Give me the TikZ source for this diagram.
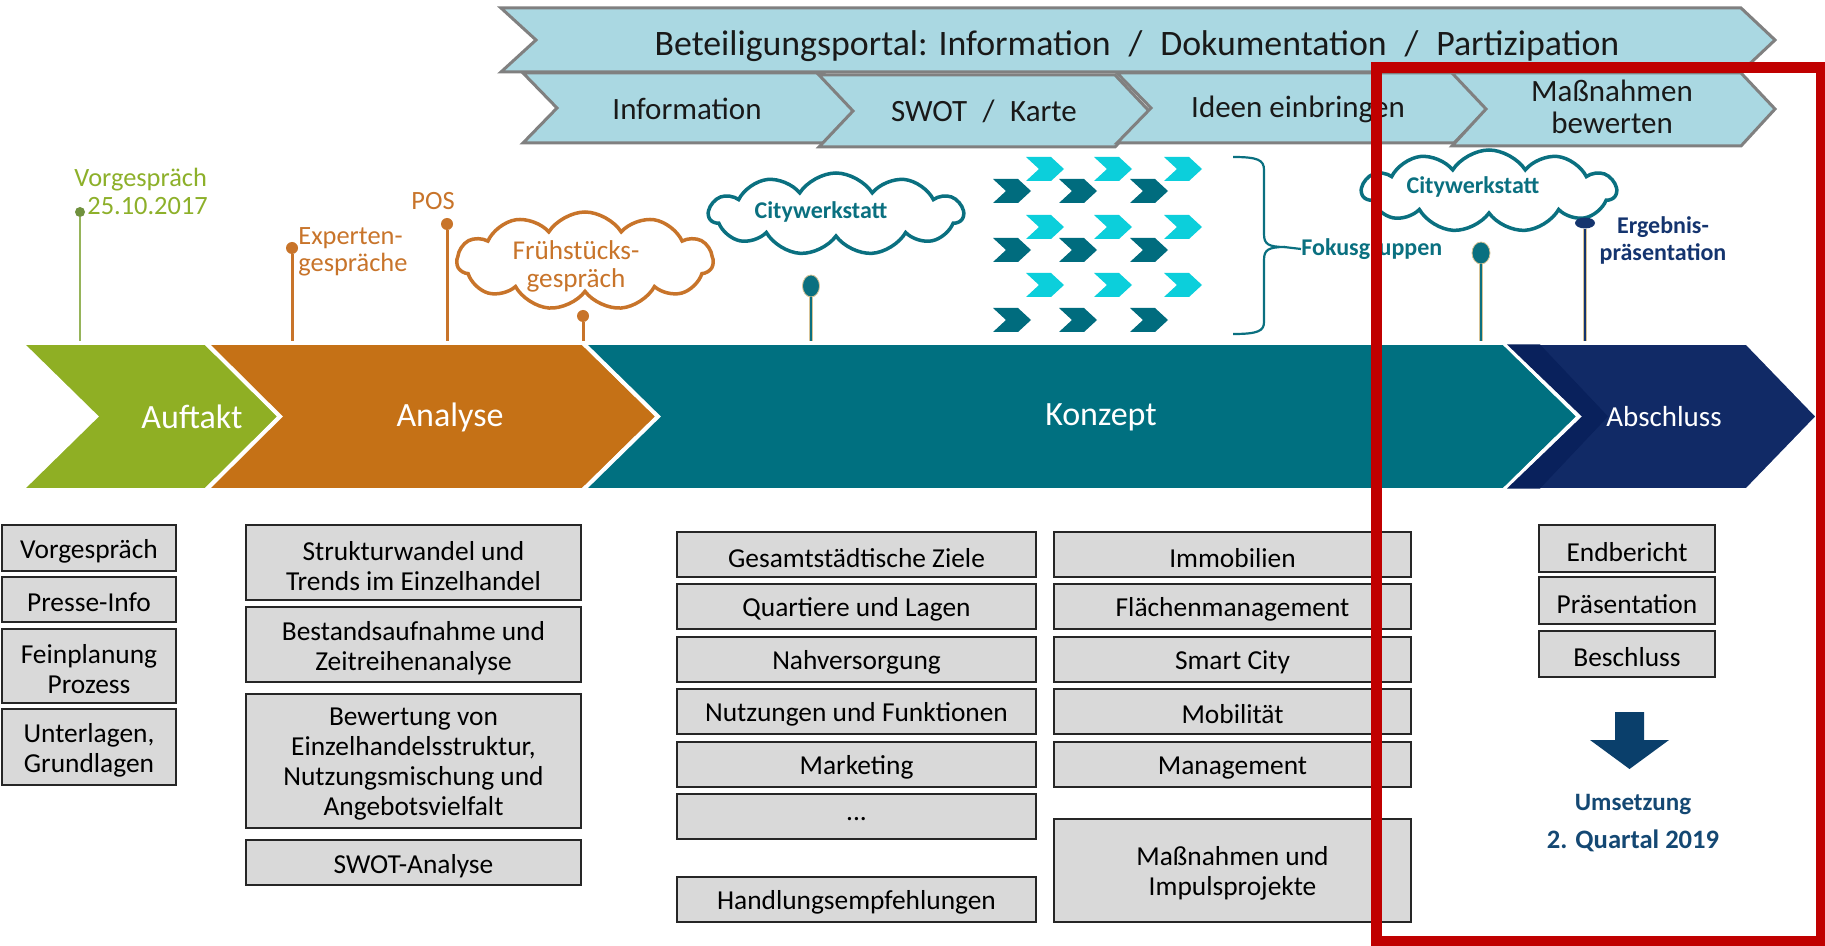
\documentclass[tikz,border=0pt]{standalone}
\usepackage{fontspec}
\setmainfont{Carlito}
\usetikzlibrary{shapes.symbols,shapes.geometric}
\definecolor{cGreen}{RGB}{143,175,36}
\definecolor{cOrange}{RGB}{197,113,22}
\definecolor{cTeal}{RGB}{0,112,128}
\definecolor{cNavy}{RGB}{17,42,102}
\definecolor{cNavyD}{RGB}{9,33,92}
\definecolor{cLight}{RGB}{170,216,226}
\definecolor{cCyan}{RGB}{12,207,219}
\definecolor{cDark}{RGB}{0,108,126}
\definecolor{cBox}{RGB}{217,217,217}
\definecolor{cRed}{RGB}{192,0,0}
\definecolor{tGreen}{RGB}{141,176,42}
\definecolor{pGreen}{RGB}{112,145,62}
\definecolor{lGreen}{RGB}{150,180,90}
\definecolor{tOrange}{RGB}{200,116,42}
\definecolor{tTeal}{RGB}{10,112,128}
\definecolor{tNavy}{RGB}{20,52,110}
\definecolor{tBlue}{RGB}{20,72,115}
\definecolor{cArrow}{RGB}{10,63,107}
\definecolor{cBeige}{RGB}{215,195,150}
\newcommand\smallchev[3]{\fill[#3] (#1,#2) -- ++(25,0) -- ++(13,12) -- ++(-13,12) -- ++(-25,0) -- ++(13,-12) -- cycle;}
% box: name, x, y, width, height, text
\newcommand\bx[6]{\node[box, minimum width=#4, minimum height=#5] (#1) at (#2,#3) {};
  \node[boxtext] (#1t) at ([yshift=-1.6pt]#1.center) {#6};}
\begin{document}
\begin{tikzpicture}[x=0.5pt,y=-0.5pt,
  box/.style={draw=black!85, fill=cBox, line width=1pt, inner sep=0pt},
  boxtext/.style={align=center, font=\fontsize{13.7}{15}\selectfont, text=black, inner sep=0pt},
  chevtop/.style={draw=gray, line width=1.5pt, fill=cLight, line join=miter},
  phase/.style={draw=white, line width=2pt, line join=miter},
  phaselabel/.style={text=white, font=\fontsize{17}{20}\selectfont},
  toplabel/.style={text=black!90, align=center, font=\fontsize{15.5}{16}\selectfont},
  cloudshape/.style={cloud, cloud puffs=11, cloud puff arc=115, cloud ignores aspect,
    line width=1.75pt, fill=white, inner sep=0pt},
  pinhead/.style={circle, inner sep=0pt, minimum size=#1},
  pinhead/.default=6pt,
  pinell/.style={ellipse, inner sep=0pt},
  mlabel/.style={font=\fontsize{13.2}{13.5}\selectfont, align=left, inner sep=0pt},
  blabel/.style={font=\bfseries\fontsize{12}{13.5}\selectfont, align=center, inner sep=0pt},
  pinline/.style={line width=1.5pt},
  pinline2/.style={draw=cBeige, line width=0.4pt, double distance=1.2pt},
]
\useasboundingbox (0,0) rectangle (1825,946);
\fill[white] (0,0) rectangle (1825,946);
\coordinate (bartop) at (0,341);

% ---------- top chevrons ----------
\draw[chevtop] (501,8) -- (1741,8) -- (1775,40) -- (1741,72) -- (501,72) -- (536,40) -- cycle;
\node[toplabel, font=\fontsize{17.9}{20}\selectfont] (portal) at (1137,46)
  {Beteiligungsportal: Information\enspace/\enspace Dokumentation\enspace/\enspace Partizipation};
\draw[chevtop] (523,73) -- (823,73) -- (857,108) -- (823,143) -- (523,143) -- (557,108) -- cycle;
\draw[chevtop] (819,75) -- (1115,75) -- (1149,111) -- (1115,147) -- (819,147) -- (853,111) -- cycle;
\draw[chevtop] (1117,73) -- (1454,73) -- (1488,108) -- (1454,143) -- (1117,143) -- (1151,108) -- cycle;
\draw[chevtop] (1452,73) -- (1741,73) -- (1775,109) -- (1741,146) -- (1452,146) -- (1486,109) -- cycle;
\node[toplabel] (info) at (687,109) {Information};
\node[toplabel] (swot) at (984,111) {SWOT\enspace/\enspace Karte};
\node[toplabel] (ideen) at (1298,109) {Ideen einbringen};
\node[toplabel] (massn) at (1612,107) {Maßnahmen\\bewerten};

% ---------- phase band ----------
\path[phase, fill=cGreen] (21,343) -- (206,343) -- (280,416.5) -- (206,490) -- (21,490) -- (96,416.5) -- cycle;
\path[phase, fill=cOrange] (206,343) -- (583,343) -- (658,416.5) -- (583,490) -- (206,490) -- (280,416.5) -- cycle;
\path[phase, fill=cTeal] (583,343) -- (1504,343) -- (1579,416.5) -- (1504,490) -- (583,490) -- (658,416.5) -- cycle;
\path[phase, fill=cNavy] (1504,343) -- (1747,343) -- (1818,416.5) -- (1747,490) -- (1504,490) -- (1579,416.5) -- cycle;
\fill[cNavyD] (1507,344.5) -- (1540,344.5) -- (1608,416.5) -- (1540,488.5) -- (1507,488.5) -- (1582,416.5) -- cycle;
\node[phaselabel] (auftakt) at (192,417) {Auftakt};
\node[phaselabel] (analyse) at (450,417) {Analyse};
\node[phaselabel] (konzept) at (1101,417) {Konzept};
\node[phaselabel, font=\fontsize{14.5}{17}\selectfont] (abschluss) at (1664,417) {Abschluss};

% ---------- milestones ----------
\node[mlabel, text=tGreen, anchor=west] (vgl1) at (74,180) {Vorgespräch};
\node[mlabel, text=tGreen, anchor=west] (vgl2) at (87,206) {25.10.2017};
\node[pinhead=5pt, fill=pGreen] (vgpin) at (80,212) {};
\draw[lGreen, line width=1pt] (vgpin) -- (vgpin |- bartop);

\node[mlabel, text=tOrange, anchor=west] (expl) at (298,252) {Experten-\\gespräche};
\node[pinhead=6pt, fill=tOrange] (exppin) at (292,248) {};
\draw[pinline, tOrange] (exppin) -- (exppin |- bartop);

\node[mlabel, text=tOrange] (posl) at (433,201) {POS};
\node[pinhead=6pt, fill=tOrange] (pospin) at (447,224) {};
\draw[pinline, tOrange] (pospin) -- (pospin |- bartop);

\node[cloudshape, draw=tOrange, minimum width=128pt, minimum height=49pt] (cloudF) at (585,261) {};
\node[mlabel, text=tOrange, align=center, font=\fontsize{13.6}{14}\selectfont] (fruehl) at (576,266) {Frühstücks-\\gespräch};
\node[pinhead=6pt, fill=tOrange] (fpin) at (583,316) {};
\draw[pinline, tOrange] (fpin) -- (fpin |- bartop);

\node[cloudshape, draw=tTeal, minimum width=127pt, minimum height=41pt] (cloudC1) at (836,214) {};
\node[blabel, text=tTeal] (cw1l) at (821,212) {Citywerkstatt};
\node[pinell, fill=tTeal, draw=cBeige, line width=0.4pt, minimum width=8.5pt, minimum height=11pt] (cw1pin) at (811,286) {};
\draw[pinline2, double=tTeal] (cw1pin) -- (cw1pin |- bartop);

% small chevrons
\smallchev{1026}{157}{cCyan}\smallchev{1094}{157}{cCyan}\smallchev{1164}{157}{cCyan}
\smallchev{993}{179}{cDark}\smallchev{1059}{179}{cDark}\smallchev{1130}{179}{cDark}
\smallchev{1026}{215}{cCyan}\smallchev{1094}{215}{cCyan}\smallchev{1164}{215}{cCyan}
\smallchev{993}{238}{cDark}\smallchev{1059}{238}{cDark}\smallchev{1130}{238}{cDark}
\smallchev{1026}{273}{cCyan}\smallchev{1094}{273}{cCyan}\smallchev{1164}{273}{cCyan}
\smallchev{993}{308}{cDark}\smallchev{1059}{308}{cDark}\smallchev{1130}{308}{cDark}

% brace
\node[blabel, text=tTeal, anchor=west] (fokus) at (1301,249) {Fokusgruppen};
\draw[tTeal, line width=1.1pt] (1233,157) .. controls (1258,157) and (1264,160) .. (1264,170) -- (1264,234)
  .. controls (1264,244) and (1268,247) .. (1285,247)
  .. controls (1268,247) and (1264,250) .. (1264,260) -- (1264,322)
  .. controls (1264,331) and (1258,334) .. (1233,334);
\draw[tTeal, line width=1.1pt] (1284,247) -- (fokus.west);

\node[cloudshape, draw=tTeal, minimum width=127pt, minimum height=41pt] (cloudC2) at (1489,191) {};
\node[blabel, text=tTeal] (cw2l) at (1473,187) {Citywerkstatt};
\node[pinell, fill=tTeal, draw=cBeige, line width=0.4pt, minimum width=9pt, minimum height=11pt] (cw2pin) at (1481,253) {};
\draw[pinline2, double=tTeal] (cw2pin) -- (cw2pin |- bartop);

\node[pinell, fill=tNavy, minimum width=10pt, minimum height=5.5pt] (erpin) at (1585,223) {};
\draw[pinline2, double=tNavy] (erpin) -- (erpin |- bartop);
\node[blabel, text=tNavy] (erl) at (1663,240) {Ergebnis-\\präsentation};

% ---------- boxes ----------
\bx{b1}{89}{548}{87pt}{23pt}{Vorgespräch}
\bx{b2}{89}{599.5}{87pt}{22.5pt}{Presse-Info}
\bx{b3}{89}{666}{87pt}{37pt}{Feinplanung\\Prozess}
\bx{b4}{89}{747}{87pt}{38pt}{Unterlagen,\\Grundlagen}

\bx{a1}{413.5}{562.5}{167.5pt}{37.5pt}{Strukturwandel und\\Trends im Einzelhandel}
\bx{a2}{413.5}{644.5}{167.5pt}{37.5pt}{Bestandsaufnahme und\\Zeitreihenanalyse}
\bx{a3}{413.5}{761}{167.5pt}{67pt}{Bewertung von\\Einzelhandelsstruktur,\\Nutzungsmischung und\\Angebotsvielfalt}
\bx{a4}{413.5}{862.5}{167.5pt}{22.5pt}{SWOT-Analyse}

\bx{k1}{856.5}{554.5}{179.5pt}{22.5pt}{Gesamtstädtische Ziele}
\bx{k2}{856.5}{606.5}{179.5pt}{22.5pt}{Quartiere und Lagen}
\bx{k3}{856.5}{659.5}{179.5pt}{22.5pt}{Nahversorgung}
\bx{k4}{856.5}{711}{179.5pt}{22.5pt}{Nutzungen und Funktionen}
\bx{k5}{856.5}{764.5}{179.5pt}{22.5pt}{Marketing}
\bx{k6}{856.5}{816}{179.5pt}{22.5pt}{...}
\bx{k7}{856.5}{899.5}{179.5pt}{22.5pt}{Handlungsempfehlungen}

\bx{m1}{1232.5}{554.5}{178.5pt}{22.5pt}{Immobilien}
\bx{m2}{1232.5}{606.5}{178.5pt}{22.5pt}{Flächenmanagement}
\bx{m3}{1232.5}{659.5}{178.5pt}{22.5pt}{Smart City}
\bx{m4}{1232.5}{711}{178.5pt}{22.5pt}{Mobilität}
\bx{m5}{1232.5}{764.5}{178.5pt}{22.5pt}{Management}
\bx{m6}{1232.5}{870.5}{178.5pt}{51.5pt}{Maßnahmen und\\Impulsprojekte}

\bx{e1}{1627}{548.5}{88pt}{23.5pt}{Endbericht}
\bx{e2}{1627}{600.5}{88pt}{23.5pt}{Präsentation}
\bx{e3}{1627}{654}{88pt}{23pt}{Beschluss}

\fill[cArrow] (1615,712) -- (1644,712) -- (1644,740) -- (1669,740) -- (1629.5,769) -- (1590,740) -- (1615,740) -- cycle;
\node[font=\bfseries\fontsize{12.5}{14}\selectfont, text=tBlue] (ums) at (1633,805) {Umsetzung};
\node[font=\bfseries\fontsize{13.3}{14}\selectfont, text=tBlue] (quart) at (1633,841) {2. Quartal 2019};

% ---------- red frame ----------
\draw[cRed, line width=5.5pt] (1376,68) rectangle (1821,941);
\end{tikzpicture}
\end{document}
